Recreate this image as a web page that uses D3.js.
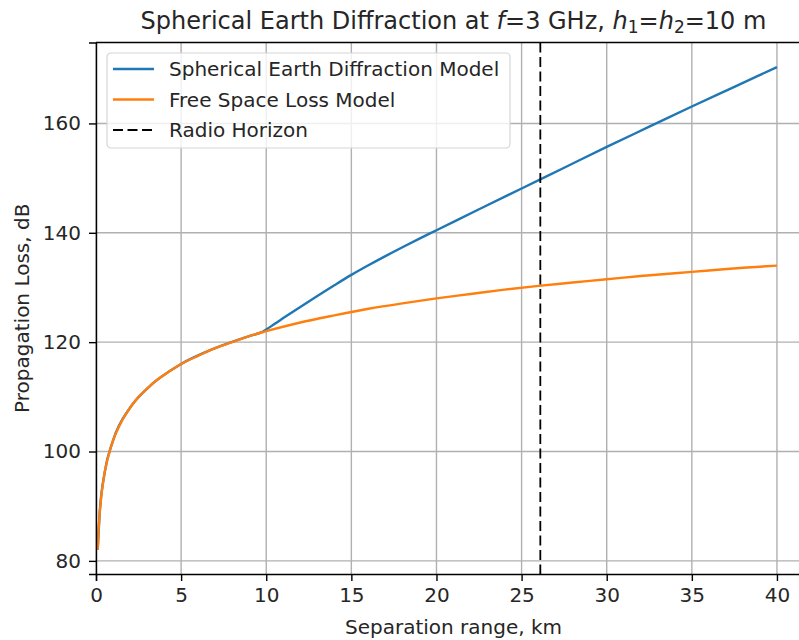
<!DOCTYPE html>
<html>
<head>
<meta charset="utf-8">
<script src="https://cdn.jsdelivr.net/npm/d3@7"></script>
<style>
  body { margin: 0; background: #fff; }
  svg text { font-family: "DejaVu Sans", sans-serif; fill: #262626; }
</style>
</head>
<body>
<svg width="799" height="640"></svg>
<script>
// separation range (km) and loss (dB)
var fslRange = [0.1, 0.15, 0.2, 0.3, 0.4, 0.5, 0.65, 0.8, 1, 1.25, 1.5, 2, 2.5, 3, 3.5, 4, 5, 6, 7, 8, 9, 10,
                12, 14, 16, 18, 20, 22, 24, 26, 28, 30, 32, 34, 36, 38, 40];
var fslLoss  = [82.0, 85.5, 88.0, 91.5, 94.0, 96.0, 98.2, 100.0, 102.0, 103.9, 105.5, 108.0, 110.0, 111.5, 112.9, 114.0, 116.0, 117.5, 118.9, 120.0, 121.1, 122.0,
                123.6, 124.9, 126.1, 127.1, 128.0, 128.8, 129.6, 130.3, 130.9, 131.5, 132.1, 132.6, 133.1, 133.6, 134.0];

// diffraction model follows free space up to ~10 km, then bends away
var sedRange = [0.1, 0.2, 0.5, 1, 2, 3, 5, 7, 9, 9.7, 10.5, 11, 12, 13, 14, 15, 16, 17, 18, 19, 20, 22.5, 25, 27.5, 30, 32.5, 35, 37.5, 40];
var sedLoss  = [82.0, 88.0, 96.0, 102.0, 108.0, 111.5, 116.0, 118.9, 121.1, 121.8, 123.35, 124.4, 126.45, 128.45, 130.4, 132.3, 134.06, 135.74, 137.36, 138.93, 140.46, 144.3, 148.1, 151.9, 155.7, 159.4, 163.1, 166.7, 170.3];

var radioHorizon = 26.1;

var xTicks = [0, 5, 10, 15, 20, 25, 30, 35, 40];
var yTicks = [80, 100, 120, 140, 160];

var legendNames = ["Spherical Earth Diffraction Model", "Free Space Loss Model", "Radio Horizon"];
var colors = ["#1f77b4", "#ff7f0e", "#000"];

var svg = d3.select("svg");
var pl = 96, pr = 811, pt = 42.5, pb = 574;

var x = d3.scaleLinear().domain([0, 42]).range([pl, pr]);
var y = d3.scaleLinear().domain([77.6, 174.8]).range([pb, pt]);

var g = svg.append("g");

// grid
g.append("g").selectAll("line").data(xTicks).enter().append("line")
    .attr("x1", d => x(d)).attr("x2", d => x(d))
    .attr("y1", pt).attr("y2", pb)
    .attr("stroke", "#b0b0b0").attr("stroke-width", 1.4);
g.append("g").selectAll("line").data(yTicks).enter().append("line")
    .attr("x1", pl).attr("x2", pr)
    .attr("y1", d => y(d)).attr("y2", d => y(d))
    .attr("stroke", "#b0b0b0").attr("stroke-width", 1.4);

var line = d3.line().x(d => x(d[0])).y(d => y(d[1])).curve(d3.curveMonotoneX);

var sed = sedRange.map((r, i) => [r, sedLoss[i]]);
var fsl = fslRange.map((r, i) => [r, fslLoss[i]]);

g.append("path").datum(sed).attr("d", line)
    .attr("fill", "none").attr("stroke", colors[0]).attr("stroke-width", 2.4);
g.append("path").datum(fsl).attr("d", line)
    .attr("fill", "none").attr("stroke", colors[1]).attr("stroke-width", 2.4);

g.append("line")
    .attr("x1", x(radioHorizon)).attr("x2", x(radioHorizon))
    .attr("y1", pt).attr("y2", pb)
    .attr("stroke", "#000").attr("stroke-width", 1.8)
    .attr("stroke-dasharray", "10,4.5");

// axes
var xAxis = svg.append("g").attr("transform", "translate(0," + pb + ")")
    .call(d3.axisBottom(x).tickValues(xTicks).tickSize(7).tickPadding(7).tickFormat(d3.format("d")));
var yAxis = svg.append("g").attr("transform", "translate(" + pl + ",0)")
    .call(d3.axisLeft(y).tickValues(yTicks).tickSize(7).tickPadding(8).tickFormat(d3.format("d")));
[xAxis, yAxis].forEach(a => {
  a.selectAll("path").attr("stroke", "#000").attr("stroke-width", 1.4);
  a.selectAll("line").attr("stroke", "#000").attr("stroke-width", 1.4);
  a.selectAll("text").attr("font-size", 20).attr("font-family", "DejaVu Sans").style("fill", "#262626");
});
svg.append("line").attr("x1", pl).attr("x2", pr).attr("y1", pt).attr("y2", pt)
    .attr("stroke", "#000").attr("stroke-width", 1.4);

// labels
svg.append("text").attr("x", (pl + pr) / 2).attr("y", 634)
    .attr("text-anchor", "middle").attr("font-size", 20).text("Separation range, km");
svg.append("text").attr("transform", "translate(29," + ((pt + pb) / 2) + ") rotate(-90)")
    .attr("text-anchor", "middle").attr("font-size", 20).text("Propagation Loss, dB");

var title = svg.append("text").attr("x", (pl + pr) / 2).attr("y", 29)
    .attr("text-anchor", "middle").attr("font-size", 24);
title.append("tspan").text("Spherical Earth Diffraction at ");
title.append("tspan").attr("font-style", "italic").text("f");
title.append("tspan").text("=3 GHz, ");
title.append("tspan").attr("font-style", "italic").text("h");
title.append("tspan").attr("font-size", 17).attr("dy", 4).text("1");
title.append("tspan").attr("dy", -4).text("=");
title.append("tspan").attr("font-style", "italic").text("h");
title.append("tspan").attr("font-size", 17).attr("dy", 4).text("2");
title.append("tspan").attr("dy", -4).text("=10 m");

// legend
var lg = svg.append("g").attr("transform", "translate(107,53)");
lg.append("rect").attr("width", 403).attr("height", 95).attr("rx", 4)
    .attr("fill", "#fff").attr("fill-opacity", 0.8)
    .attr("stroke", "#d6d6d6").attr("stroke-width", 1.2);
legendNames.forEach((name, i) => {
  var yy = 16 + i * 30.5;
  lg.append("line").attr("x1", 6).attr("x2", 47).attr("y1", yy).attr("y2", yy)
    .attr("stroke", colors[i]).attr("stroke-width", i === 2 ? 1.8 : 2.4)
    .attr("stroke-dasharray", i === 2 ? "10,4.5" : null);
  lg.append("text").attr("x", 62).attr("y", yy + 7).attr("font-size", 20).text(name);
});
</script>
</body>
</html>
